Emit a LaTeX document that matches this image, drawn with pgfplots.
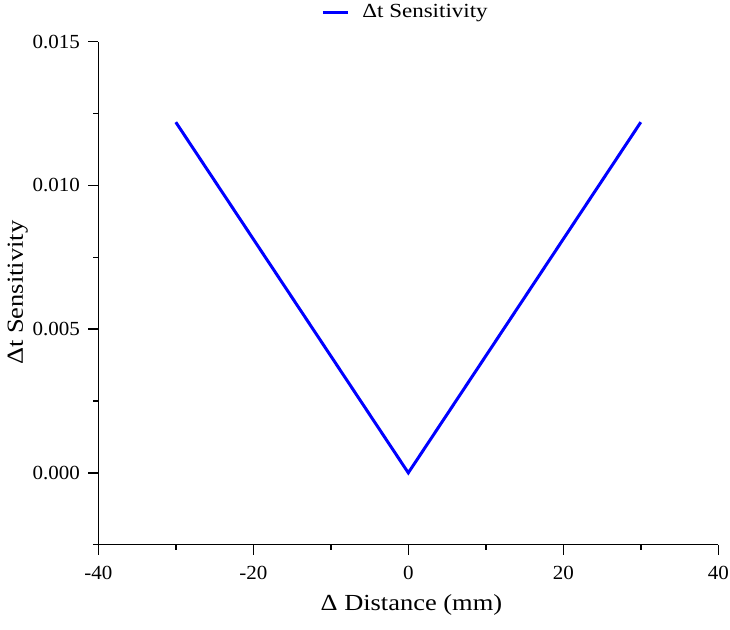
\documentclass[border=0pt]{standalone}
\usepackage{fontspec}
\setmainfont{Liberation Serif}
\newfontfamily\tickfont[FakeStretch=1.05]{Liberation Serif}
\newfontfamily\labfont[FakeStretch=1.15]{Liberation Serif}
\usepackage{pgfplots}
\pgfplotsset{compat=1.18}
\begin{document}
\begin{tikzpicture}
\useasboundingbox (-98.3pt,-84.3pt) rectangle (631.7pt,544.7pt);
\begin{axis}[
  scale only axis,
  width=620pt, height=503pt,
  xmin=-40, xmax=40, ymin=-0.0025, ymax=0.015,
  axis x line*=bottom, axis y line*=left,
  axis line style={line width=1.5pt, -},
  tick align=outside,
  major tick length=10pt, minor tick length=5pt,
  every tick/.style={line width=1.5pt, black},
  xtick={-40,-20,0,20,40},
  minor xtick={-30,-10,10,30},
  ytick={0,0.005,0.010,0.015},
  minor ytick={-0.0025,0.0025,0.0075,0.0125},
  scaled y ticks=false,
  /pgf/number format/assume math mode=true,
  yticklabel style={/pgf/number format/.cd, fixed, fixed zerofill, precision=3, /tikz/.cd, xshift=-5pt},
  xticklabel style={yshift=-8pt},
  ticklabel style={font=\tickfont\fontsize{20}{24}\selectfont},
  xlabel={Δ Distance (mm)},
  ylabel={Δt Sensitivity},
  every axis x label/.style={at={(axis description cs:0.505,-0.12)}, anchor=center,
    font=\labfont\fontsize{23}{27}\selectfont},
  every axis y label/.style={at={(axis description cs:-0.1298,0.501)}, anchor=center, rotate=90,
    font=\labfont\fontsize{23}{27}\selectfont},
  legend style={draw=none, fill=none, at={(axis description cs:0.4955,1.059)}, anchor=center,
    font=\labfont\fontsize{20}{24}\selectfont,
    /tikz/every odd column/.append style={column sep=11pt}},
  legend image code/.code={\draw[#1] (0pt,0pt) -- (25pt,0pt);},
]
\addplot[color={rgb,255:red,0;green,0;blue,255}, line width=3pt] coordinates {
  (-30,0.0122) (0,0) (30,0.0122)
};
\addlegendentry{Δt Sensitivity}
\end{axis}
\end{tikzpicture}
\end{document}
